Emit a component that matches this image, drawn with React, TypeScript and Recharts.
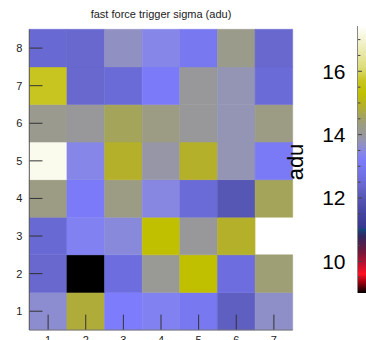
import { ScatterChart, Scatter, XAxis, YAxis, ReferenceArea, ReferenceLine } from "recharts";

const COLUMNS = [1, 2, 3, 4, 5, 6, 7];
const ROWS = [1, 2, 3, 4, 5, 6, 7, 8];

// sigma (adu) per column, one array per row, row 1 at the bottom; null = no channel
const ROW_1 = [13.6, 14.8, 13.2, 13.3, 13.0, 12.2, 13.65];
const ROW_2 = [12.4, 9.0, 12.6, 14.05, 15.3, 12.6, 14.4];
const ROW_3 = [12.45, 13.3, 13.5, 15.3, 14.0, 14.9, null];
const ROW_4 = [14.3, 13.15, 14.3, 13.45, 12.5, 12.0, 14.6];
const ROW_5 = [17.25, 13.4, 14.9, 13.9, 14.9, 13.8, 13.1];
const ROW_6 = [14.15, 14.0, 14.6, 14.3, 14.0, 13.8, 14.3];
const ROW_7 = [15.7, 12.4, 12.5, 13.15, 14.0, 13.8, 12.5];
const ROW_8 = [12.45, 12.4, 13.7, 13.4, 13.0, 14.2, 12.4];

const SIGMA_ROWS: (number | null)[][] = [ROW_1, ROW_2, ROW_3, ROW_4, ROW_5, ROW_6, ROW_7, ROW_8];

const Z_MIN = 9.0;
const Z_MAX = 17.43;
const Z_TICKS = [10, 12, 14, 16];

// colour scale stops: [value, colour]
const PALETTE: [number, string][] = [
  [9.0, "#000000"],
  [9.35, "#a00010"],
  [9.6, "#ff1020"],
  [9.9, "#c01030"],
  [10.3, "#701838"],
  [10.8, "#302860"],
  [10.95, "#203c78"],
  [11.0, "#0a4a80"],
  [11.08, "#383890"],
  [11.5, "#4444a0"],
  [12.0, "#5656b4"],
  [12.4, "#6868cf"],
  [12.6, "#6d6de0"],
  [13.0, "#7878f0"],
  [13.2, "#7c7cfc"],
  [13.4, "#8686e8"],
  [13.6, "#8c8cd0"],
  [13.8, "#9494b4"],
  [14.0, "#98989a"],
  [14.3, "#9c9c84"],
  [14.6, "#a4a45a"],
  [14.9, "#b4b02a"],
  [15.3, "#c0c000"],
  [15.7, "#c8c420"],
  [16.1, "#dcdc78"],
  [17.43, "#ffffff"],
];

const FONT = "'Liberation Sans', Arial, Helvetica, sans-serif";

function hexToRgb(hex: string) {
  const n = parseInt(hex.slice(1), 16);
  return [(n >> 16) & 255, (n >> 8) & 255, n & 255];
}

function colorFor(v: number) {
  if (v <= PALETTE[0][0]) return PALETTE[0][1];
  for (let i = 1; i < PALETTE.length; i++) {
    const [v1, c1] = PALETTE[i];
    if (v <= v1) {
      const [v0, c0] = PALETTE[i - 1];
      const t = (v - v0) / (v1 - v0);
      const a = hexToRgb(c0);
      const b = hexToRgb(c1);
      const mix = a.map((ch, k) => Math.round(ch + (b[k] - ch) * t));
      return `rgb(${mix[0]},${mix[1]},${mix[2]})`;
    }
  }
  return PALETTE[PALETTE.length - 1][1];
}

type Cell = { x: number; y: number; sigma: number };

const cells: Cell[] = [];
ROWS.forEach((row, ri) => {
  COLUMNS.forEach((col, ci) => {
    const sigma = SIGMA_ROWS[ri][ci];
    if (sigma !== null) cells.push({ x: col, y: row, sigma });
  });
});

// inward tick lengths in data units
const Y_TICK_LEN = 0.35;
const X_TICK_LEN = 0.41;

// colour bar tick marks every 0.5 adu
const zMinor: number[] = [];
for (let z = 9.5; z <= 17.0; z += 0.5) zMinor.push(z);

const tickStyle = { fontSize: 11, fill: "#222", fontFamily: FONT };

function HeatMap() {
  return (
    <ScatterChart
      width={366}
      height={340}
      margin={{ top: 29.3, right: 73.3, bottom: 0, left: 0 }}
    >
      <XAxis
        type="number"
        dataKey="x"
        domain={[0.5, 7.5]}
        ticks={COLUMNS}
        allowDataOverflow
        height={10}
        tickSize={0}
        tickMargin={6}
        tickLine={false}
        tick={tickStyle}
        axisLine={{ stroke: "#777" }}
      />
      <YAxis
        type="number"
        dataKey="y"
        domain={[0.5, 8.5]}
        ticks={ROWS}
        allowDataOverflow
        width={29.3}
        tickSize={0}
        tickMargin={7}
        tickLine={false}
        tick={tickStyle}
        axisLine={{ stroke: "#555" }}
      />
      {cells.map((c) => (
        <ReferenceArea
          key={`cell-${c.x}-${c.y}`}
          x1={c.x - 0.5}
          x2={c.x + 0.5}
          y1={c.y - 0.5}
          y2={c.y + 0.5}
          fill={colorFor(c.sigma)}
          fillOpacity={1}
          stroke={colorFor(c.sigma)}
          strokeWidth={0.5}
        />
      ))}
      {ROWS.map((r) => (
        <ReferenceLine
          key={`yt-${r}`}
          segment={[
            { x: 0.5, y: r },
            { x: 0.5 + Y_TICK_LEN, y: r },
          ]}
          stroke="#333"
          strokeWidth={1}
        />
      ))}
      {COLUMNS.map((c) => (
        <ReferenceLine
          key={`xt-${c}`}
          segment={[
            { x: c, y: 0.5 },
            { x: c, y: 0.5 + X_TICK_LEN },
          ]}
          stroke="#333"
          strokeWidth={1}
        />
      ))}
      <Scatter data={cells} isAnimationActive={false} shape={() => <g />} />
    </ScatterChart>
  );
}

const gradientStops = [...PALETTE].reverse().map(([v, c]) => ({
  offset: `${((Z_MAX - v) / (Z_MAX - Z_MIN)) * 100}%`,
  color: c,
}));

function ColorBar() {
  return (
    <ScatterChart width={100} height={340} margin={{ top: 26, right: 0, bottom: 47, left: 0 }}>
      <defs>
        <linearGradient id="zgrad" x1="0" y1="0" x2="0" y2="1">
          {gradientStops.map((s, i) => (
            <stop key={i} offset={s.offset} stopColor={s.color} />
          ))}
        </linearGradient>
      </defs>
      <XAxis type="number" dataKey="x" domain={[0, 1]} hide />
      <YAxis
        type="number"
        dataKey="z"
        domain={[Z_MIN, Z_MAX]}
        ticks={Z_TICKS}
        allowDataOverflow
        width={77.5}
        tickSize={0}
        tickMargin={12}
        tickLine={false}
        tick={{ fontSize: 21, fill: "#000", fontFamily: FONT }}
        axisLine={{ stroke: "#888" }}
      />
      <ReferenceArea x1={0} x2={1} y1={Z_MIN} y2={Z_MAX} fill="url(#zgrad)" fillOpacity={1} />
      {zMinor.map((z) => (
        <ReferenceLine
          key={`zt-${z}`}
          segment={[
            { x: 0, y: z },
            { x: z % 2 === 0 ? 0.2 : 0.13, y: z },
          ]}
          stroke="#444"
          strokeWidth={1}
        />
      ))}
      <Scatter data={[{ x: 0, z: Z_MIN }]} isAnimationActive={false} shape={() => <g />} />
    </ScatterChart>
  );
}

export default function App() {
  return (
    <div
      style={{
        position: "absolute",
        left: 0,
        top: 0,
        width: 366,
        height: 340,
        overflow: "hidden",
        background: "#fff",
      }}
    >
      <div style={{ position: "absolute", left: 0, top: 0 }}>
        <HeatMap />
      </div>
      <div style={{ position: "absolute", left: 280, top: 0 }}>
        <ColorBar />
      </div>
      <svg
        width={366}
        height={340}
        style={{ position: "absolute", left: 0, top: 0, pointerEvents: "none" }}
      >
        <text x={161} y={18} textAnchor="middle" fontSize={11} fill="#222" fontFamily={FONT}>
          fast force trigger sigma (adu)
        </text>
        <text
          x={303}
          y={162}
          textAnchor="middle"
          fontSize={22}
          fill="#000"
          fontFamily={FONT}
          transform="rotate(-90, 303, 162)"
        >
          adu
        </text>
      </svg>
    </div>
  );
}
